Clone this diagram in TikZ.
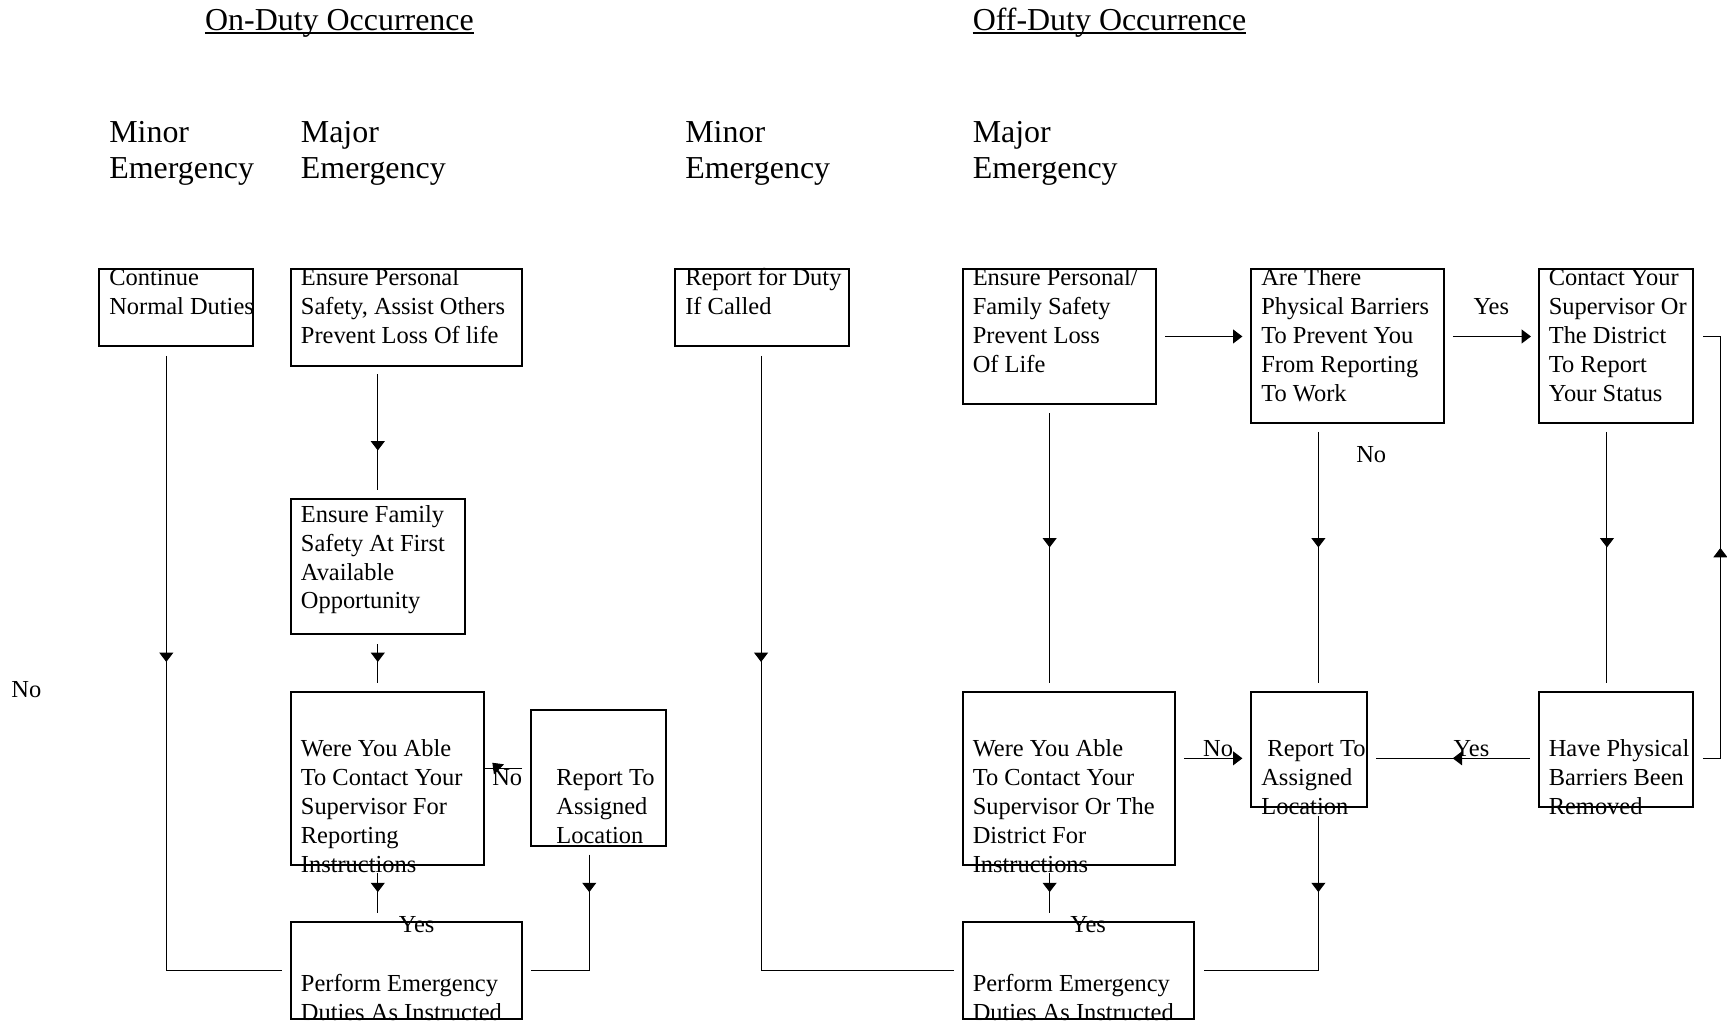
\documentclass[tikz,border=0pt]{standalone}
\usepackage{fontspec}
\setmainfont{Liberation Serif}
\usetikzlibrary{arrows.meta,calc,decorations.markings}

\newcommand{\boxfont}{\fontsize{22.2}{26.3}\selectfont}
\newcommand{\headfont}{\fontsize{29}{33.5}\selectfont}
\newcommand{\linestack}[1]{\begin{tabular}[t]{@{}l@{}}#1\end{tabular}}

\begin{document}
\begin{tikzpicture}[x=1pt, y=-1pt,
  >={Triangle[length=8.5pt,width=12.7pt]},
  box/.style={draw, line width=1.8pt, inner sep=0pt, outer sep=0pt},
  txt/.style={anchor=base west, inner sep=0pt, font=\boxfont},
  lbl/.style={anchor=base, inner sep=0pt, font=\boxfont},
  head/.style={anchor=base west, inner sep=0pt, font=\headfont},
  flow/.style={line width=0.9pt},
  tipat/.style={postaction=decorate, decoration={markings,
      mark=at position #1 with {\arrow{>}}}},
  tiltat/.style={postaction=decorate, decoration={markings,
      mark=at position #1 with {\pgftransformshift{\pgfpoint{0pt}{-5pt}}\pgftransformrotate{-45}\arrow{>}}}},
]
\fill[white] (0,0) rectangle (1568,929);
\useasboundingbox (0,0) rectangle (1568,929);

% titles
\node[head] (ti1) at (186,27.8) {On-Duty Occurrence};
\node[head] (ti2) at (883,27.8) {Off-Duty Occurrence};
\draw[line width=1.4pt] ($(ti1.base west)+(0,2)$) -- ($(ti1.base east)+(0,2)$);
\draw[line width=1.4pt] ($(ti2.base west)+(0,2)$) -- ($(ti2.base east)+(0,2)$);

% column headings
\node[head] (h1) at (99,129)  {\linestack{Minor\\Emergency}};
\node[head] (h2) at (273,129) {\linestack{Major\\Emergency}};
\node[head] (h3) at (622,129) {\linestack{Minor\\Emergency}};
\node[head] (h4) at (883,129) {\linestack{Major\\Emergency}};

% boxes: on-duty
\node[box, minimum width=140pt, minimum height=70pt]  (b1) at (160,279) {};
\node[box, minimum width=210pt, minimum height=88pt]  (b2) at (369,288) {};
\node[box, minimum width=158pt, minimum height=123pt] (b3) at (343,514.5) {};
\node[box, minimum width=175pt, minimum height=157pt] (b4) at (351.5,706.5) {};
\node[box, minimum width=123pt, minimum height=123pt] (b5) at (543.5,706.5) {};
\node[box, minimum width=210pt, minimum height=88pt]  (b6) at (369,881) {};
% boxes: off-duty
\node[box, minimum width=158pt, minimum height=70pt]  (b7) at (692,279) {};
\node[box, minimum width=176pt, minimum height=123pt] (b8) at (962,305.5) {};
\node[box, minimum width=175pt, minimum height=140pt] (b9) at (1223.5,314) {};
\node[box, minimum width=140pt, minimum height=140pt] (b10) at (1467,314) {};
\node[box, minimum width=193pt, minimum height=157pt] (b11) at (970.5,706.5) {};
\node[box, minimum width=105pt, minimum height=105pt] (b12) at (1188.5,680.5) {};
\node[box, minimum width=140pt, minimum height=105pt] (b13) at (1467,680.5) {};
\node[box, minimum width=210pt, minimum height=88pt]  (b14) at (979,881) {};

% box texts
\node[txt] (t1) at (99,259.4)  {\linestack{Continue\\Normal Duties}};
\node[txt] (t2) at (273,259.4) {\linestack{Ensure Personal\\Safety, Assist Others\\Prevent Loss Of life}};
\node[txt] (t3) at (273,474)   {\linestack{Ensure Family\\Safety At First\\Available\\Opportunity}};
\node[txt] (t4) at (273,687)   {\linestack{Were You Able\\To Contact Your\\Supervisor For\\Reporting\\Instructions}};
\node[txt] (t5) at (505,713)   {\linestack{Report To\\Assigned\\Location}};
\node[txt] (t6) at (273,900.5) {\linestack{Perform Emergency\\Duties As Instructed}};
\node[txt] (t7) at (622,259.4) {\linestack{Report for Duty\\If Called}};
\node[txt] (t8) at (883,259.4) {\linestack{Ensure Personal/\\Family Safety\\Prevent Loss\\Of Life}};
\node[txt] (t9) at (1145,259.4) {\linestack{Are There\\Physical Barriers\\To Prevent You\\From Reporting\\To Work}};
\node[txt] (t10) at (1406,259.4) {\linestack{Contact Your\\Supervisor Or\\The District\\To Report\\Your Status}};
\node[txt] (t11) at (883,687)  {\linestack{Were You Able\\To Contact Your\\Supervisor Or The\\District For\\Instructions}};
\node[txt] (t12) at (1145,687) {\linestack{\ Report To\\Assigned\\Location}};
\node[txt] (t13) at (1406,687) {\linestack{Have Physical\\Barriers Been\\Removed}};
\node[txt] (t14) at (883,900.5) {\linestack{Perform Emergency\\Duties As Instructed}};

% branch labels
\node[lbl] (l1) at (24,633.5)   {No};
\node[lbl] (l2) at (460.5,713)  {No};
\node[lbl] (l3) at (378.3,847)  {Yes};
\node[lbl] (l4) at (1354,285.5) {Yes};
\node[lbl] (l5) at (1245,419.5) {No};
\node[lbl] (l6) at (1106,686.5) {No};
\node[lbl] (l7) at (1336,686.5) {Yes};
\node[lbl] (l8) at (988,847)    {Yes};

% connectors: on-duty
\draw[flow, tipat=278pt] ($(b1.south)+(-9,9)$) |- ($(b6.west)+(-8,0)$);
\draw[flow, tipat=69pt]  ($(b2.south -| b3.north)+(0,8)$) -- ($(b3.north)+(0,-8)$);
\draw[flow, tipat=16pt]  ($(b3.south)+(0,9)$) -- ($(b3.south |- b4.north)+(0,-8)$);
\draw[flow, tipat=17pt]  ($(b3.south |- b4.south)+(0,8)$) -- ($(b3.south |- b6.north)+(0,-8)$);
\draw[flow, tiltat=27pt] ($(b5.west)+(-8,-9)$) -- ($(b4.east)+(1,-9)$);
\draw[flow, tipat=34pt]  ($(b5.south)+(-8.5,8)$) |- ($(b6.east)+(8,0)$);

% connectors: off-duty
\draw[flow, tipat=278pt] ($(b7.south)+(-1,9)$) |- ($(b14.west)+(-8,0)$);
\draw[flow, ->] ($(b8.east)+(8,0)$) -- ($(b8.east -| b9.west)+(-8,0)$);
\draw[flow, ->] ($(b8.east -| b9.east)+(8,0)$) -- ($(b8.east -| b10.west)+(-7,0)$);
\draw[flow, tipat=207pt] ($(b13.east)+(9,8)$) -- ($(b13.east)+(25,8)$) |- ($(b8.east -| b10.east)+(9,0)$);
\draw[flow, tipat=122pt] ($(b8.south)+(-9,8)$) -- ($(b8.south |- b11.north)+(-9,-8)$);
\draw[flow, tipat=105pt] ($(b9.south)+(-26.5,8)$) -- ($(b9.south |- b12.north)+(-26.5,-8)$);
\draw[flow, tipat=105pt] ($(b10.south)+(-8,8)$) -- ($(b13.north)+(-8,-8)$);
\draw[flow, ->] ($(b11.east |- b13.east)+(8,8)$) -- ($(b12.west |- b13.east)+(-8,8)$);
\draw[flow, tipat=70pt]  ($(b13.west)+(-8,8)$) -- ($(b12.east |- b13.west)+(8,8)$);
\draw[flow, tipat=17pt]  ($(b8.south |- b11.south)+(-9,8)$) -- ($(b8.south |- b14.north)+(-9,-8)$);
\draw[flow, tipat=69pt]  ($(b12.south)+(8.5,8)$) |- ($(b14.east)+(9,0)$);
\end{tikzpicture}
\end{document}
